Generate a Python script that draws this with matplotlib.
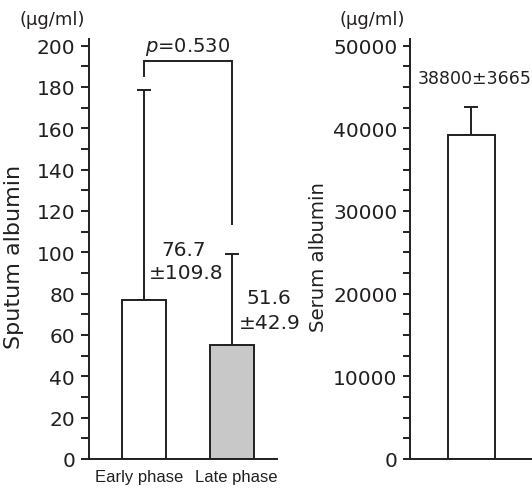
import matplotlib
matplotlib.use("Agg")
import matplotlib.pyplot as plt
from matplotlib import font_manager

# ---- data ----
sputum_categories = ["Early phase", "Late phase"]
sputum_means = [77.1, 55.2]
sputum_err_upper = [101.6, 43.8]
sputum_labels_mean = ["76.7", "51.6"]
sputum_labels_sd = ["\u00b1109.8", "\u00b142.9"]
sputum_colors = ["white", "#c8c8c8"]
sputum_yticks = list(range(0, 201, 20))
p_text = "$p$=0.530"
bracket_x = [0, 0, 1, 1]
bracket_y = [185.3, 192.6, 192.6, 113.7]

serum_means = [39200]
serum_err_upper = [3420]
serum_label = "38800\u00b13665"
serum_yticks = list(range(0, 50001, 10000))

INK = "#231f20"
LW = 1.4

plt.rcParams['font.family'] = ['DejaVu Sans']
avail = {f.name for f in font_manager.fontManager.ttflist}
if 'Liberation Sans Narrow' in avail:
    xfont, xsize = 'Liberation Sans Narrow', 14.5
elif 'Liberation Sans' in avail:
    xfont, xsize = 'Liberation Sans', 12
else:
    xfont, xsize = 'DejaVu Sans', 11

W, H = 532, 489
fig = plt.figure(figsize=(W / 100, H / 100), dpi=100)

def frac(x0, y_top, x1, y_bottom):
    return [x0 / W, (H - y_bottom) / H, (x1 - x0) / W, (y_bottom - y_top) / H]

# ---- left panel ----
ax1 = fig.add_axes(frac(89, 40, 277, 460))
xs = list(range(len(sputum_means)))
ax1.bar(xs, sputum_means, width=0.5, color=sputum_colors, edgecolor=INK, linewidth=LW, zorder=2)
ax1.errorbar(xs, sputum_means, yerr=[[0] * len(xs), sputum_err_upper], fmt='none',
             ecolor=INK, elinewidth=LW, capsize=5, capthick=LW, zorder=1)
ax1.set_xlim(-0.625, 1.511)
ax1.set_ylim(0, 203.2)
ax1.set_yticks(sputum_yticks)
ax1.set_yticks(list(range(10, 200, 20)), minor=True)
ax1.set_xticks([-0.057, 1.045])
ax1.set_xticklabels(sputum_categories, family=xfont, fontsize=xsize, color=INK)
ax1.tick_params(axis='x', length=0, pad=7)
ax1.tick_params(axis='y', which='both', length=6, width=LW, color=INK, labelsize=14.5,
                labelcolor=INK, pad=4)
for s in ['top', 'right']:
    ax1.spines[s].set_visible(False)
for s in ['left', 'bottom']:
    ax1.spines[s].set_linewidth(LW)
    ax1.spines[s].set_color(INK)
ax1.plot(bracket_x, bracket_y, color=INK, lw=LW, clip_on=False, solid_joinstyle='miter')
ax1.text(0.494, 199.6, p_text, ha='center', va='center', fontsize=14, color=INK)
ax1.text(0.455, 101.2, sputum_labels_mean[0], ha='center', va='center', fontsize=14.5, color=INK)
ax1.text(0.477, 90.0, sputum_labels_sd[0], ha='center', va='center', fontsize=14.5, color=INK)
ax1.text(1.42, 77.9, sputum_labels_mean[1], ha='center', va='center', fontsize=14.5, color=INK)
ax1.text(1.432, 65.8, sputum_labels_sd[1], ha='center', va='center', fontsize=14.5, color=INK)

# ---- right panel ----
ax2 = fig.add_axes(frac(410, 40, 532, 460))
ax2.bar([0], serum_means, width=0.5, color='white', edgecolor=INK, linewidth=LW, zorder=2)
ax2.errorbar([0], serum_means, yerr=[[0], serum_err_upper], fmt='none',
             ecolor=INK, elinewidth=LW, capsize=5, capthick=LW, zorder=1)
ax2.set_xlim(-0.65, 0.64)
ax2.set_ylim(0, 50800)
ax2.set_yticks(serum_yticks)
ax2.set_yticks([v for v in range(2500, 50000, 2500) if v % 10000], minor=True)
ax2.set_xticks([])
ax2.tick_params(axis='y', which='both', length=5, width=LW, color=INK, labelsize=14.5,
                labelcolor=INK, pad=4)
for s in ['top', 'right']:
    ax2.spines[s].set_visible(False)
for s in ['left', 'bottom']:
    ax2.spines[s].set_linewidth(LW)
    ax2.spines[s].set_color(INK)
ax2.text(0.032, 46030, serum_label, ha='center', va='center', fontsize=12.5, color=INK)

# ---- figure-level labels ----
fig.text(14.5 / W, 1 - 257.3 / H, "Sputum albumin", rotation=90, ha='center', va='center',
         fontsize=16, color=INK)
fig.text(318.5 / W, 1 - 256.7 / H, "Serum albumin", rotation=90, ha='center', va='center',
         fontsize=14.2, color=INK)
fig.text(52 / W, 1 - 20 / H, "(\u00b5g/ml)", ha='center', va='center', fontsize=13, color=INK)
fig.text(372 / W, 1 - 20 / H, "(\u00b5g/ml)", ha='center', va='center', fontsize=13, color=INK)

fig.savefig("out.png", dpi=100)
